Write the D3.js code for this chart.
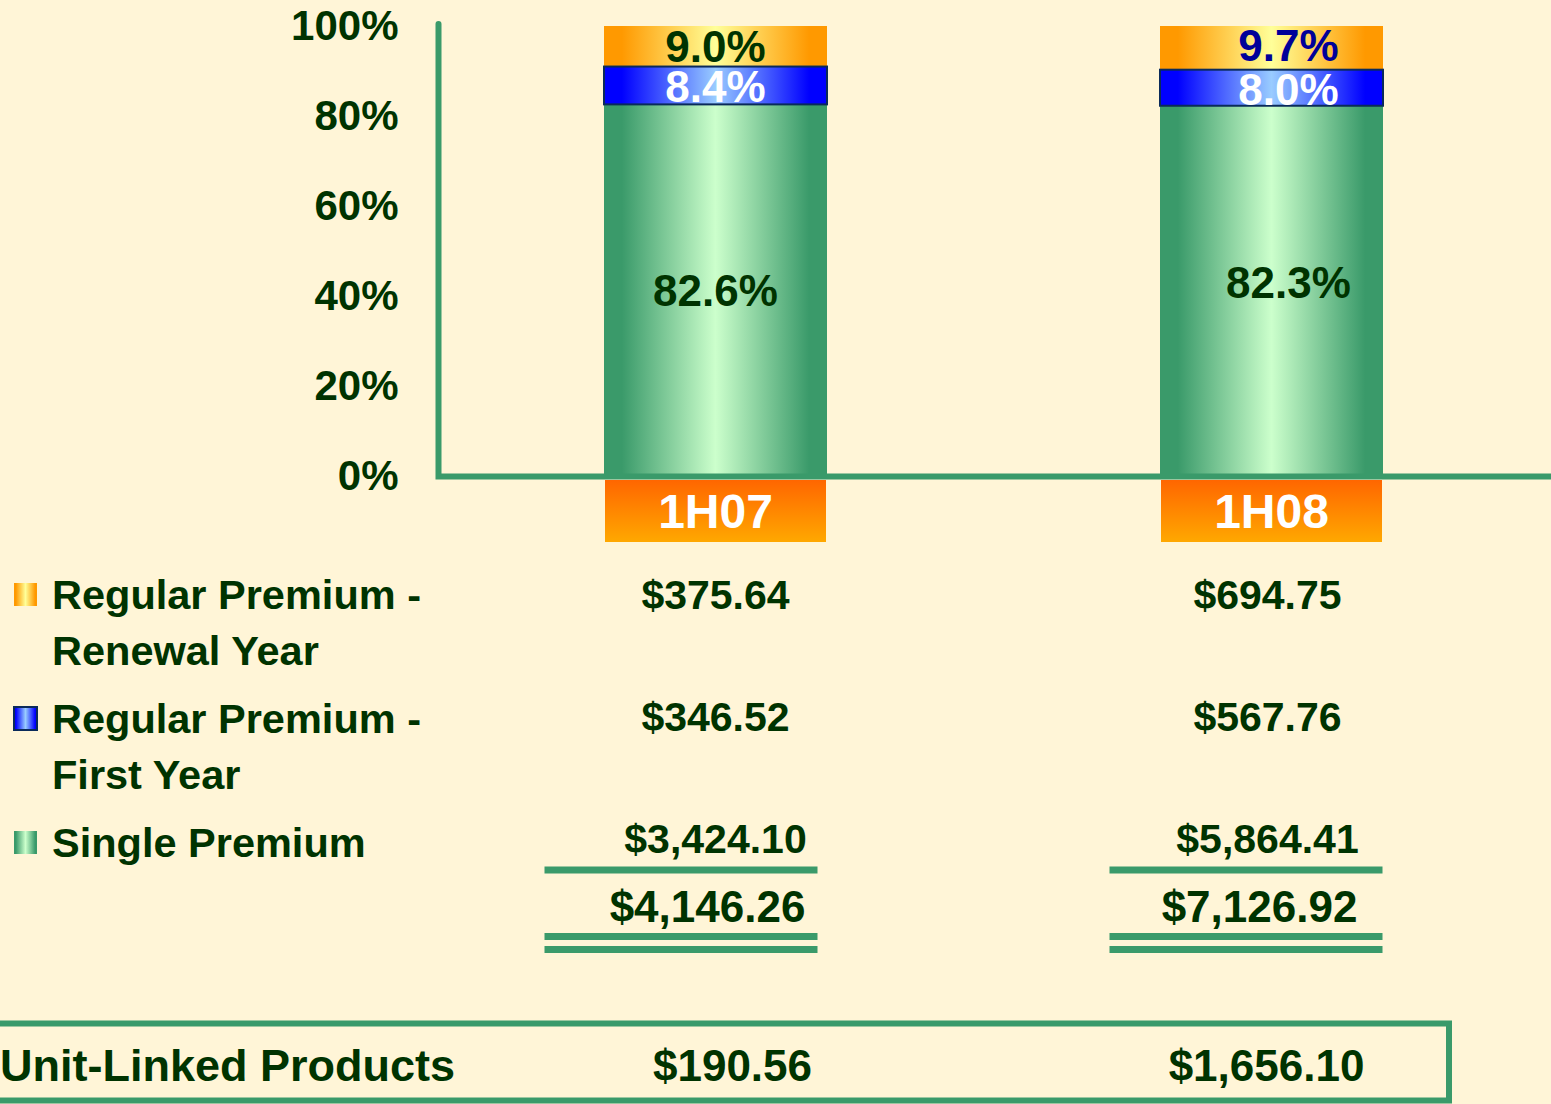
<!DOCTYPE html>
<html>
<head>
<meta charset="utf-8">
<script src="https://cdn.jsdelivr.net/npm/d3@7"></script>
<style>
  html, body { margin: 0; padding: 0; background: #FFF5D7; }
  svg { display: block; font-family: "Liberation Sans", Arial, sans-serif; font-weight: bold; }
</style>
</head>
<body>
<svg id="chart"></svg>
<script>
// data
const periods = ["1H07", "1H08"];
const singleShare = [82.6, 82.3];
const firstYearShare = [8.4, 8.0];
const renewalShare = [9.0, 9.7];
const yTicks = [0, 20, 40, 60, 80, 100];

const legendNames = [
  ["Regular Premium -", "Renewal Year"],
  ["Regular Premium -", "First Year"],
  ["Single Premium"]
];
const renewalAmt = [375.64, 694.75];
const firstYearAmt = [346.52, 567.76];
const singleAmt = [3424.10, 5864.41];
const totalAmt = [4146.26, 7126.92];
const unitLinkedAmt = [190.56, 1656.10];

// layout
const W = 1551, H = 1104;
const green = "#3A9A6A", ink = "#003300";
const barW = 223;
const labelDx = [0, 17];      // bar label nudges per column
const colDx = [0, -4];        // table column nudges
const ruleDx = [0, 9];

const svg = d3.select("#chart").attr("width", W).attr("height", H);
svg.append("rect").attr("width", W).attr("height", H).attr("fill", "#FFF5D7");

const defs = svg.append("defs");
function hGrad(id, edge, mid) {
  const g = defs.append("linearGradient").attr("id", id)
    .attr("x1", "0%").attr("x2", "100%").attr("y1", "0%").attr("y2", "0%");
  g.append("stop").attr("offset", "0%").attr("stop-color", edge);
  g.append("stop").attr("offset", "8%").attr("stop-color", edge);
  g.append("stop").attr("offset", "50%").attr("stop-color", mid);
  g.append("stop").attr("offset", "92%").attr("stop-color", edge);
  g.append("stop").attr("offset", "100%").attr("stop-color", edge);
}
hGrad("gGreen", "#3A9A6A", "#CCFFCC");
hGrad("gBlue", "#0000FF", "#99CCFF");
hGrad("gOrange", "#FF9900", "#FFFF99");
const vg = defs.append("linearGradient").attr("id", "gCat")
  .attr("x1", "0%").attr("x2", "0%").attr("y1", "0%").attr("y2", "100%");
vg.append("stop").attr("offset", "0%").attr("stop-color", "#FF6600");
vg.append("stop").attr("offset", "100%").attr("stop-color", "#FFA800");

const x = d3.scalePoint().domain(periods).range([715.5, 1271.5]);
const y = d3.scaleLinear().domain([0, 100]).range([476.5, 26]);

// stacked segments
const rows = periods.map((p, i) => ({
  period: p,
  segs: [
    { key: "single", v: singleShare[i], fill: "url(#gGreen)", color: ink },
    { key: "first", v: firstYearShare[i], fill: "url(#gBlue)", color: "#FFFFFF" },
    { key: "renewal", v: renewalShare[i], fill: "url(#gOrange)", color: i === 0 ? ink : "#000099" }
  ]
}));
rows.forEach(r => {
  let acc = 0;
  r.segs.forEach(s => { s.y0 = acc; acc += s.v; s.y1 = acc; });
});

const bars = svg.append("g").selectAll("g").data(rows).enter().append("g");
bars.each(function(r, i) {
  const g = d3.select(this);
  const cx = x(r.period);
  // blue drawn last so its border sits on top
  [r.segs[0], r.segs[2], r.segs[1]].forEach(s => {
    g.append("rect")
      .attr("x", cx - barW / 2)
      .attr("y", y(s.y1))
      .attr("width", barW)
      .attr("height", y(s.y0) - y(s.y1))
      .attr("fill", s.fill)
      .attr("stroke", s.key === "first" ? "#0A2A5A" : "none")
      .attr("stroke-width", 2);
  });
  r.segs.forEach(s => {
    const dy = (s.key === "single" && i === 1) ? -9 : (s.key === "renewal" && i === 1 ? -3 : 0);
    g.append("text")
      .attr("x", cx + labelDx[i])
      .attr("y", (y(s.y0) + y(s.y1)) / 2 + dy + (s.key === "first" ? 1 : 0))
      .attr("dy", "0.36em")
      .attr("text-anchor", "middle")
      .attr("fill", s.color)
      .style("font-size", s.key === "single" ? "44px" : "44px")
      .text(d3.format(".1f")(s.v) + "%");
  });
});

// axes
const yAxis = svg.append("g")
  .attr("transform", "translate(438.5,0)")
  .call(d3.axisLeft(y).tickValues(yTicks).tickSize(0).tickPadding(40).tickFormat(d => d + "%"));
yAxis.select(".domain").remove();
yAxis.selectAll("text").attr("fill", ink).style("font-size", "42px")
  .style("font-family", "'Liberation Sans', Arial, sans-serif").style("font-weight", "bold");

svg.append("path")
  .attr("d", `M438.5,${y(100) - 2}V${y(0)}H${W + 5}`)
  .attr("fill", "none").attr("stroke", green).attr("stroke-width", 6)
  .attr("stroke-linecap", "round").attr("stroke-linejoin", "miter");

// category boxes
const cats = svg.append("g").selectAll("g").data(periods).enter().append("g");
cats.append("rect")
  .attr("x", d => x(d) - barW / 2 + 1)
  .attr("y", 480).attr("width", barW - 2).attr("height", 62)
  .attr("fill", "url(#gCat)");
cats.append("text")
  .attr("x", d => x(d))
  .attr("y", 511).attr("dy", "0.36em")
  .attr("text-anchor", "middle").attr("fill", "#FFFFFF")
  .style("font-size", "48px")
  .text(d => d);

// legend
const legendY = [594, 718, 842];
const legendFill = ["url(#gOrange)", "url(#gBlue)", "url(#gGreen)"];
const leg = svg.append("g").selectAll("g").data(legendNames).enter().append("g")
  .attr("transform", (d, i) => `translate(0,${legendY[i]})`);
leg.append("rect")
  .attr("x", 14).attr("y", -11).attr("width", 23).attr("height", 23)
  .attr("fill", (d, i) => legendFill[i])
  .attr("stroke", (d, i) => i === 1 ? "#0A2A5A" : "none").attr("stroke-width", 2);
leg.each(function(lines) {
  d3.select(this).selectAll("text").data(lines).enter().append("text")
    .attr("x", 52).attr("y", (d, j) => j * 56).attr("dy", "0.36em")
    .attr("fill", ink).style("font-size", "41.5px").text(d => d);
});

// amounts table
const fmt = d3.format("$,.2f");
const amtRows = [
  { vals: renewalAmt, y: 594, size: 41 },
  { vals: firstYearAmt, y: 716, size: 41 },
  { vals: singleAmt, y: 838, size: 41 },
  { vals: totalAmt, y: 906, size: 44, dx: -8 }
];
amtRows.forEach(r => {
  svg.append("g").selectAll("text").data(periods).enter().append("text")
    .attr("x", (d, i) => x(d) + colDx[i] + (r.dx || 0))
    .attr("y", r.y).attr("dy", "0.36em")
    .attr("text-anchor", "middle").attr("fill", ink)
    .style("font-size", r.size + "px")
    .text((d, i) => fmt(r.vals[i]));
});

// rules under single premium and totals
const ruleYs = [870, 936.5, 949.5];
periods.forEach((p, i) => {
  ruleYs.forEach(ry => {
    svg.append("line")
      .attr("x1", x(p) + ruleDx[i] - 171).attr("x2", x(p) + ruleDx[i] + 102)
      .attr("y1", ry).attr("y2", ry)
      .attr("stroke", green).attr("stroke-width", 7);
  });
});

// unit-linked box
svg.append("rect")
  .attr("x", -10).attr("y", 1023.5).attr("width", 1459).attr("height", 77)
  .attr("fill", "none").attr("stroke", green).attr("stroke-width", 6);
svg.append("text")
  .attr("x", 0).attr("y", 1065).attr("dy", "0.36em")
  .attr("fill", ink).style("font-size", "45px").text("Unit-Linked Products");
svg.append("g").selectAll("text").data(periods).enter().append("text")
  .attr("x", (d, i) => x(d) + (i === 0 ? 17 : -5))
  .attr("y", 1065).attr("dy", "0.36em")
  .attr("text-anchor", "middle").attr("fill", ink)
  .style("font-size", "44px")
  .text((d, i) => fmt(unitLinkedAmt[i]));
</script>
</body>
</html>
